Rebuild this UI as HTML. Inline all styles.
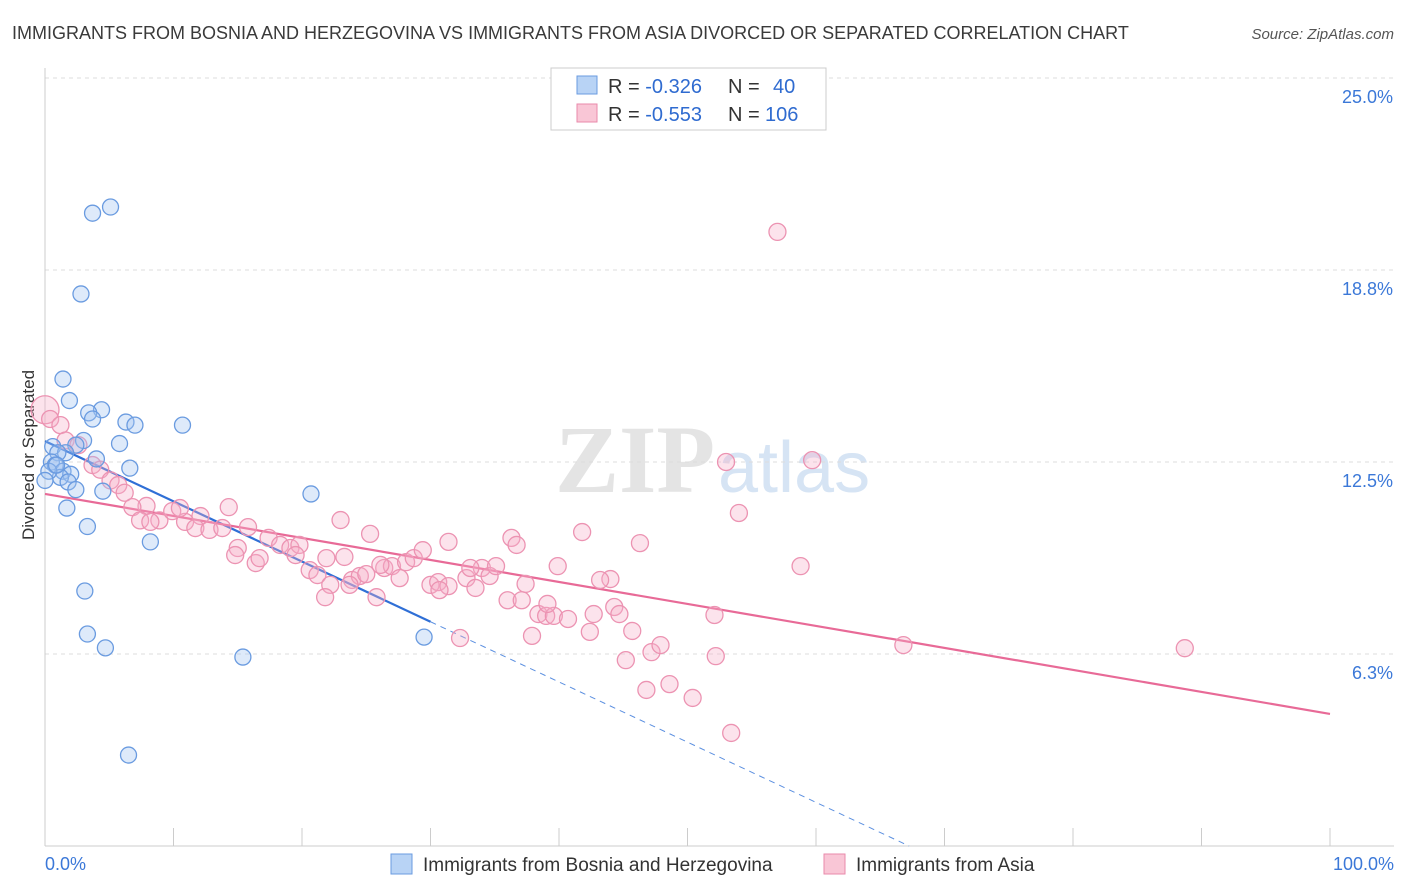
<!DOCTYPE html>
<html><head><meta charset="utf-8">
<style>
body{margin:0;background:#fff;font-family:"Liberation Sans",sans-serif;}
#wrap{position:relative;width:1406px;height:892px;overflow:hidden;}
</style></head>
<body>
<div id="wrap">
<svg id="chart" width="1406" height="892" xmlns="http://www.w3.org/2000/svg">
<text x="12" y="39" font-size="18" fill="#3a3a3a">IMMIGRANTS FROM BOSNIA AND HERZEGOVINA VS IMMIGRANTS FROM ASIA DIVORCED OR SEPARATED CORRELATION CHART</text>
<text x="1394" y="39" font-size="15" fill="#555" font-style="italic" text-anchor="end">Source: ZipAtlas.com</text>
<text x="555" y="492" font-size="96" fill="#e4e4e4" font-family="Liberation Serif,serif" font-weight="bold">ZIP</text>
<text x="718" y="492" font-size="72" fill="#d6e4f4">atlas</text>
<text transform="translate(34,455) rotate(-90)" font-size="17" fill="#333" text-anchor="middle">Divorced or Separated</text>
<g id="grid"></g><g id="axes"></g><g id="lines"></g><g id="pts"></g>
<g>
<rect x="551" y="68" width="275" height="62" fill="#fff" stroke="#ccc"/>
<rect x="577" y="76" width="20" height="18" fill="#b8d3f5" stroke="#6a9be0"/>
<rect x="577" y="104" width="20" height="18" fill="#f9c6d6" stroke="#e98aab"/>
<text x="608" y="93" font-size="20" fill="#333">R = <tspan fill="#2f6bd0">-0.326</tspan><tspan x="728">N = </tspan><tspan x="773" fill="#2f6bd0">40</tspan></text>
<text x="608" y="121" font-size="20" fill="#333">R = <tspan fill="#2f6bd0">-0.553</tspan><tspan x="728">N = </tspan><tspan x="765" fill="#2f6bd0">106</tspan></text>
</g>
<g>
<rect x="391" y="854" width="21" height="20" fill="#b8d3f5" stroke="#6a9be0"/>
<text x="423" y="871" font-size="19" fill="#333">Immigrants from Bosnia and Herzegovina</text>
<rect x="824" y="854" width="21" height="20" fill="#f9c6d6" stroke="#e98aab"/>
<text x="856" y="871" font-size="19" fill="#333">Immigrants from Asia</text>
</g>
</svg>
</div>
<script>
const yTicks=[25.0,18.8,12.5,6.3];
const yTickVals=[25,18.75,12.5,6.25];
const xTickLabels=["0.0%","100.0%"];
const blueX=[3.7,5.1,2.8,1.4,1.9,4.4,3.4,3.7,6.3,7.0,10.7,3.0,5.8,2.4,0.6,1.6,1.0,4.0,0.5,0.8,6.6,1.4,2.0,1.2,1.8,2.4,4.5,20.7,1.7,3.3,8.2,3.1,3.3,4.7,15.4,29.5,6.5,0.3,0.0,0.9];
const blueY=[20.6,20.8,17.97,15.2,14.5,14.2,14.1,13.9,13.8,13.7,13.7,13.2,13.1,13.05,13.0,12.8,12.8,12.6,12.5,12.4,12.3,12.2,12.1,12.0,11.85,11.6,11.55,11.46,11.0,10.4,9.9,8.3,6.9,6.45,6.15,6.8,2.96,12.2,11.9,12.4];
const pinkX=[0,0.4,1.2,1.6,2.6,3.7,4.3,5.1,5.7,6.2,7.9,6.8,8.9,7.4,8.2,9.9,10.9,10.5,12.1,11.7,12.8,13.8,14.3,15.8,15.0,14.8,16.4,17.4,18.3,19.1,19.8,19.5,20.6,21.2,21.9,23.0,23.3,22.2,23.9,24.5,25.0,25.3,25.8,26.4,27.0,27.6,28.1,28.7,29.4,30.0,30.6,31.4,31.4,32.3,32.8,33.5,34.0,34.6,35.1,36.3,36.7,37.4,36.0,37.9,38.4,39.0,39.6,39.9,40.7,41.8,42.4,42.7,44.0,44.3,44.7,45.2,45.7,46.3,46.8,47.2,47.9,48.6,50.4,52.1,52.2,53.0,53.4,54.0,57.0,58.8,59.7,66.8,88.7,33.1,37.1,39.1,43.2,26.1,16.7,23.7,21.8,30.7];
const pinkY=[14.2,13.9,13.7,13.2,13.05,12.4,12.25,11.9,11.75,11.5,11.07,11.03,10.6,10.6,10.55,10.9,10.55,11.0,10.74,10.35,10.29,10.35,11.03,10.38,9.7,9.47,9.21,10.03,9.8,9.7,9.8,9.47,8.98,8.82,9.37,10.61,9.41,8.5,8.66,8.79,8.85,10.16,8.1,9.05,9.11,8.72,9.24,9.37,9.63,8.5,8.59,8.46,9.9,6.77,8.72,8.4,9.05,8.79,9.11,10.03,9.8,8.53,8.0,6.84,7.55,7.49,7.49,9.11,7.39,10.22,6.97,7.55,8.69,7.78,7.55,6.05,7.0,9.86,5.08,6.31,6.54,5.27,4.82,7.52,6.18,12.5,3.68,10.84,19.99,9.11,12.56,6.54,6.44,9.05,8.0,7.88,8.66,9.15,9.37,8.5,8.1,8.33];
const blueLine=[13.18,-0.196];   // intercept, slope per %
const pinkLine=[11.46,-0.0716];
const NS="http://www.w3.org/2000/svg";
const X=v=>45+v*12.85, Y=v=>846-v*30.72;
function mk(tag,attrs,parent){const e=document.createElementNS(NS,tag);for(const k in attrs)e.setAttribute(k,attrs[k]);parent.appendChild(e);return e;}
const grid=document.getElementById('grid'),axes=document.getElementById('axes'),lines=document.getElementById('lines'),pts=document.getElementById('pts');
yTickVals.forEach((v,i)=>{
 const l=mk('line',{x1:45,x2:1394,y1:Y(v),y2:Y(v),stroke:'#ddd','stroke-dasharray':'4,4'},grid);
 
 
 const t=mk('text',{x:1393,y:Y(v)+25,'font-size':18,fill:'#3b78d8','text-anchor':'end'},axes);
 t.textContent=yTicks[i].toFixed(1)+'%';
 
 
});
const ya=mk('line',{x1:45,x2:45,y1:68,y2:846,stroke:'#ccc'},axes);


const xa=mk('line',{x1:45,x2:1394,y1:846,y2:846,stroke:'#ccc'},axes);


for(let i=0;i<=10;i++){
 const tk=mk('line',{x1:X(i*10),x2:X(i*10),y1:828,y2:846,stroke:'#ccc'},axes);
 
 
}
[[0,'start',45],[100,'end',1394]].forEach((a,i)=>{
 const t=mk('text',{x:a[2],y:870,'font-size':18,fill:'#3b78d8','text-anchor':a[1]},axes);
 t.textContent=xTickLabels[i];
 
 
});
function dot(x,y,r,fill,stroke,name){
 const c=mk('circle',{cx:X(x),cy:Y(y),r:r,fill:fill,stroke:stroke,'stroke-width':1.3},pts);
 
 
}
pinkX.forEach((x,i)=>dot(x,pinkY[i],i===0?14:8.5,'rgba(246,176,200,0.35)','#ec93b2','point-asia'));
blueX.forEach((x,i)=>dot(x,blueY[i],8,'rgba(160,196,240,0.35)','#6a9be0','point-bosnia'));
const lb=v=>blueLine[0]+blueLine[1]*v, lp=v=>pinkLine[0]+pinkLine[1]*v;
const zero=-blueLine[0]/blueLine[1];
let e=mk('line',{x1:X(0),y1:Y(lb(0)),x2:X(30),y2:Y(lb(30)),stroke:'#2f6fd6','stroke-width':2.2},lines);


e=mk('line',{x1:X(30),y1:Y(lb(30)),x2:X(zero),y2:Y(0),stroke:'#5b8fe0','stroke-width':1,'stroke-dasharray':'6,5'},lines);


e=mk('line',{x1:X(0),y1:Y(lp(0)),x2:X(100),y2:Y(lp(100)),stroke:'#e86a97','stroke-width':2.2},lines);


</script>
</body></html>
